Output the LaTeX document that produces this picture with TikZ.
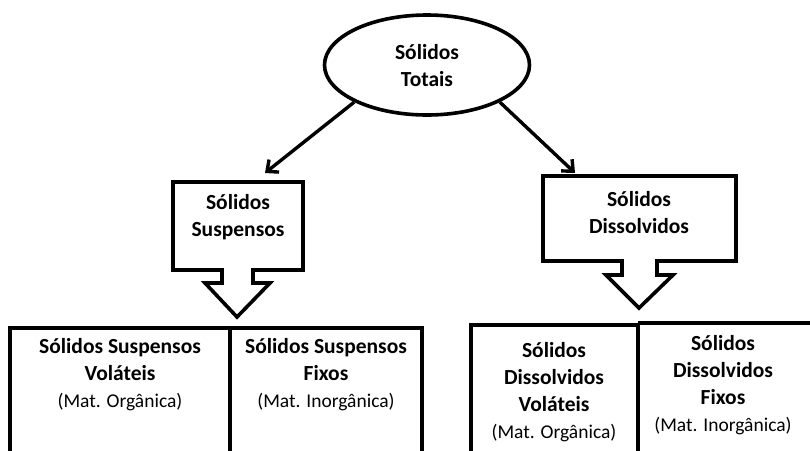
\documentclass[tikz,border=0pt]{standalone}
\usepackage{fontspec}
\setmainfont{Carlito}
\usetikzlibrary{shapes.geometric,arrows.meta}
\newcommand{\bsz}{\fontsize{21.5}{27}\selectfont\bfseries}
\newcommand{\rsz}{\fontsize{19.5}{27}\selectfont\mdseries}
\tikzset{
  outline/.style={line width=3.6pt, line join=miter, black},
  conn/.style={line width=3.4pt, -{Straight Barb[length=9pt,width=16pt,line width=3.4pt]}},
  lbl/.style={align=center, font=\bsz, inner sep=0pt},
}
\begin{document}
\begin{tikzpicture}[x=1pt,y=-1pt]
\useasboundingbox (0,0) rectangle (810,450);
% top ellipse
\node[ellipse, draw, outline, minimum width=205pt, minimum height=100pt, inner sep=0pt] (st) at (427,65) {};
\node[lbl] (sttxt) at (427,66) {Sólidos\\Totais};
% left callout
\draw[outline] (173,182) -- (303,182) -- (303,270) -- (253,270) -- (253,283) -- (270,283)
  -- (237,317) -- (205,283) -- (222,283) -- (222,270) -- (173,270) -- cycle;
\node[lbl] (ss) at (238,217) {Sólidos\\Suspensos};
% right callout
\draw[outline] (543,176) -- (736,176) -- (736,261) -- (657,261) -- (657,275) -- (673,275)
  -- (639,308) -- (606,275) -- (622,275) -- (622,261) -- (543,261) -- cycle;
\node[lbl] (sd) at (639,213) {Sólidos\\Dissolvidos};
% arrow end coordinates
\coordinate (ssend) at (265,173);
\coordinate (sdend) at (575,173);
\draw[conn] (st.207) -- (ssend);
\draw[conn] (st.333) -- (sdend);
% bottom left boxes
\draw[outline] (10,455) -- (10,328) -- (422,328) -- (422,455);
\draw[outline] (230,328) -- (230,455);
\node[lbl] (ssv) at (120,375) {Sólidos Suspensos\\Voláteis\\\rsz (Mat. Orgânica)};
\node[lbl] (ssf) at (326,375) {Sólidos Suspensos\\Fixos\\\rsz (Mat. Inorgânica)};
% bottom right boxes
\draw[outline] (471,455) -- (471,325) -- (638,325) -- (638,455);
\draw[outline] (638,323) -- (815,323);
\node[lbl] (sdv) at (554,392) {Sólidos\\Dissolvidos\\Voláteis\\\rsz (Mat. Orgânica)};
\node[lbl] (sdf) at (723,385) {Sólidos\\Dissolvidos\\Fixos\\\rsz (Mat. Inorgânica)};
\end{tikzpicture}
\end{document}
